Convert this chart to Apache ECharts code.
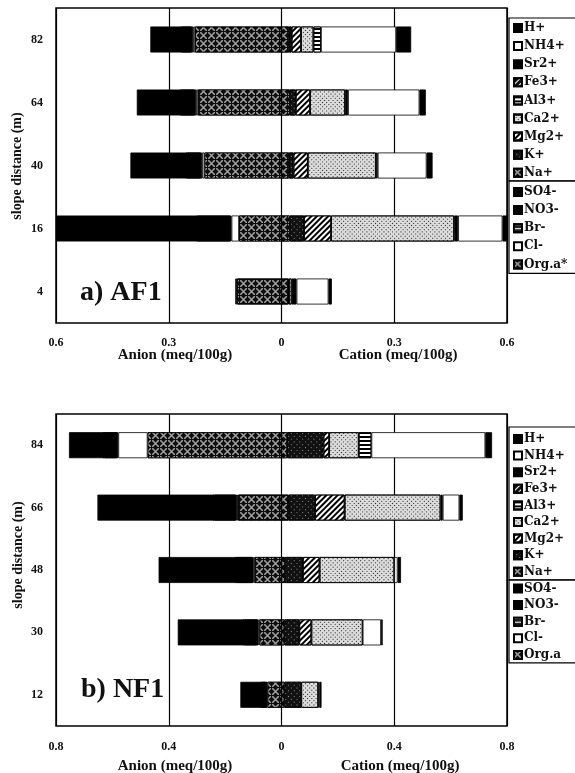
<!DOCTYPE html>
<html>
<head>
<meta charset="utf-8">
<script src="https://cdn.jsdelivr.net/npm/echarts@6/dist/echarts.min.js"></script>
<style>
  html, body { margin: 0; padding: 0; background: #fff; }
  #chart { width: 575px; height: 773px; }
</style>
</head>
<body>
<div id="chart"></div>
<script>
// ---------- a) AF1 : ion balance per slope distance (meq/100g) ----------
const afDistance = ['4', '16', '40', '64', '82'];
// cations (stacked to the right, from zero outward)
const afNa  = [0.018, 0.022, 0.020, 0.022, 0.020];
const afK   = [0.002, 0.038, 0.012, 0.016, 0.007];
const afMg  = [0,     0.072, 0.038, 0.038, 0.025];
const afCa  = [0.007, 0.327, 0.181, 0.093, 0.033];
const afAl  = [0,     0,     0,     0,     0.020];
const afFe  = [0,     0,     0,     0,     0];
const afSr  = [0.013, 0.011, 0.005, 0.008, 0];
const afNH4 = [0.085, 0.118, 0.130, 0.190, 0.200];
const afH   = [0.009, 0.012, 0.016, 0.017, 0.040];
// anions (stacked to the left, from zero outward)
const afOrg = [0.118, 0.113, 0.205, 0.222, 0.230];
const afCl  = [0,     0.020, 0.006, 0.005, 0.005];
const afBr  = [0,     0,     0,     0,     0];
const afNO3 = [0,     0.090, 0.040, 0.040, 0.030];
const afSO4 = [0.005, 0.377, 0.151, 0.118, 0.084];

// ---------- b) NF1 ----------
const nfDistance = ['12', '30', '48', '66', '84'];
const nfNa  = [0.010, 0.010, 0.012, 0.024, 0.020];
const nfK   = [0.060, 0.053, 0.064, 0.095, 0.129];
const nfMg  = [0,     0.043, 0.059, 0.105, 0.020];
const nfCa  = [0.060, 0.182, 0.265, 0.340, 0.105];
const nfAl  = [0,     0,     0,     0,     0.045];
const nfFe  = [0,     0,     0,     0,     0];
const nfSr  = [0,     0,     0,     0.008, 0];
const nfNH4 = [0.004, 0.065, 0.012, 0.059, 0.404];
const nfH   = [0.008, 0.006, 0.012, 0.012, 0.024];
const nfOrg = [0.050, 0.078, 0.095, 0.154, 0.475];
const nfCl  = [0,     0.004, 0.004, 0.004, 0.104];
const nfBr  = [0,     0,     0,     0,     0];
const nfNO3 = [0.020, 0.050, 0.060, 0.080, 0.050];
const nfSO4 = [0.076, 0.236, 0.277, 0.415, 0.125];

// x axis extents
const afLimit = 0.6, afStep = 0.3;
const nfLimit = 0.8, nfStep = 0.4;

const cationLegend = ['H+', 'NH4+', 'Sr2+', 'Fe3+', 'Al3+', 'Ca2+', 'Mg2+', 'K+', 'Na+'];

// ---------- fills / patterns ----------
const crossPath = 'path://M0,0L1.6,0L10,8.4L10,10L8.4,10L0,1.6Z M8.4,0L10,0L10,1.6L1.6,10L0,10L0,8.4Z';
const styles = {
  'H+':   { color: '#000' },
  'NH4+': { color: '#ffffff' },
  'Sr2+': { color: '#000' },
  'Fe3+': { color: '#111', decal: { symbol: 'rect', color: '#fff', dashArrayX: [1, 0], dashArrayY: [1, 2.5], rotation: -Math.PI / 4 } },
  'Al3+': { color: '#fff', decal: { symbol: 'rect', color: '#000', dashArrayX: [1, 0], dashArrayY: [1.6, 1.6] } },
  'Ca2+': { color: '#dcdcdc', decal: { symbol: 'rect', color: '#222', dashArrayX: [1, 1.2], dashArrayY: [1, 1.2], rotation: Math.PI / 4 } },
  'Mg2+': { color: '#fff', decal: { symbol: 'rect', color: '#000', dashArrayX: [1, 0], dashArrayY: [1.3, 2], rotation: -Math.PI / 4 } },
  'K+':   { color: '#111', decal: { symbol: 'rect', color: '#8a8a8a', dashArrayX: [1, 3], dashArrayY: [1, 3], rotation: Math.PI / 4 } },
  'Na+':  { color: '#0d0d0d', decal: { symbol: crossPath, color: 'rgba(255,255,255,0.6)', dashArrayX: [7, 1], dashArrayY: [7, 1] } },
  'SO4-': { color: '#000' },
  // its shadow closes the hairline left between the two black anion segments
  'NO3-': { color: '#000', shadowColor: '#000', shadowBlur: 0, shadowOffsetX: -1.5 },
  'Br-':  { color: '#222', decal: { symbol: 'rect', color: '#fff', dashArrayX: [1, 0], dashArrayY: [1, 3] } },
  'Cl-':  { color: '#ffffff' },
  'Org':  { color: '#0d0d0d', decal: { symbol: crossPath, color: 'rgba(255,255,255,0.6)', dashArrayX: [7, 1], dashArrayY: [7, 1] } }
};

const serif = 'Liberation Serif';
const legendFont = 'DejaVu Serif';
const ink = '#111';

function toSeries(name, styleKey, values, sign, axisIndex) {
  return {
    name: name,
    type: 'bar',
    stack: 'ions' + axisIndex,
    xAxisIndex: axisIndex,
    yAxisIndex: axisIndex,
    barWidth: 26,
    data: values.map(v => (v === 0 ? null : sign * v)),
    itemStyle: Object.assign({ borderColor: '#000', borderWidth: 0.8 }, styles[styleKey]),
    emphasis: { disabled: true },
    animation: false
  };
}

function panelSeries(idx, orgName, d) {
  return [
    // negative stack: first series sits next to zero
    toSeries(orgName, 'Org', d.org, -1, idx),
    toSeries('Cl-', 'Cl-', d.cl, -1, idx),
    toSeries('Br-', 'Br-', d.br, -1, idx),
    toSeries('NO3-', 'NO3-', d.no3, -1, idx),
    toSeries('SO4-', 'SO4-', d.so4, -1, idx),
    // positive stack
    toSeries('Na+', 'Na+', d.na, 1, idx),
    toSeries('K+', 'K+', d.k, 1, idx),
    toSeries('Mg2+', 'Mg2+', d.mg, 1, idx),
    toSeries('Ca2+', 'Ca2+', d.ca, 1, idx),
    toSeries('Al3+', 'Al3+', d.al, 1, idx),
    toSeries('Fe3+', 'Fe3+', d.fe, 1, idx),
    toSeries('Sr2+', 'Sr2+', d.sr, 1, idx),
    toSeries('NH4+', 'NH4+', d.nh4, 1, idx),
    toSeries('H+', 'H+', d.h, 1, idx)
  ];
}

const absLabel = v => String(Math.round(Math.abs(v) * 10) / 10);

function xAxisFor(idx, limit, step, margin) {
  return {
    gridIndex: idx, type: 'value', min: -limit, max: limit, interval: step,
    axisLine: { show: false }, axisTick: { show: false },
    splitLine: { show: true, lineStyle: { color: '#000', width: 1.2 } },
    axisLabel: { formatter: absLabel, margin: margin, color: ink, fontFamily: serif, fontWeight: 'bold', fontSize: 12 }
  };
}
function yAxisFor(idx, cats) {
  return {
    gridIndex: idx, type: 'category', data: cats,
    axisLine: { show: false }, axisTick: { show: false }, splitLine: { show: false },
    axisLabel: { margin: 13, color: ink, fontFamily: serif, fontWeight: 'bold', fontSize: 12, padding: [6, 0, 0, 0] }
  };
}

function legendBlock(data, top, pad, gap) {
  return {
    orient: 'vertical', left: 509, top: top, data: data,
    icon: 'rect', itemWidth: 8, itemHeight: 8, itemGap: gap,
    padding: pad, borderColor: '#000', borderWidth: 1.2,
    selectedMode: false,
    itemStyle: { shadowColor: 'transparent', shadowOffsetX: 0 },
    textStyle: { color: ink, fontFamily: legendFont, fontWeight: 'bold', fontSize: 12, lineHeight: 14, padding: [0, 0, 0, -3] }
  };
}

function label(text, x, y, size) {
  return {
    type: 'text', x: x, y: y, z: 50,
    style: { text: text, fill: ink, font: 'bold ' + size + 'px "' + serif + '"', align: 'center', verticalAlign: 'middle' }
  };
}
function yName(x, y) {
  return {
    type: 'text', x: x, y: y, rotation: Math.PI / 2, z: 50,
    style: { text: 'slope distance (m)', fill: ink, font: 'bold 14px "' + serif + '"', align: 'center', verticalAlign: 'middle' }
  };
}
function panelTag(text, x, y, pad) {
  return {
    type: 'text', x: x, y: y, z: 50,
    style: { text: text, fill: ink, font: 'bold 28px "' + serif + '"', align: 'left', verticalAlign: 'middle', backgroundColor: '#fff', padding: pad }
  };
}

const option = {
  backgroundColor: '#fff',
  animation: false,
  grid: [
    { left: 56, top: 8, width: 451, height: 315, show: true, borderColor: '#000', borderWidth: 1.5, backgroundColor: 'transparent' },
    { left: 56, top: 414, width: 451, height: 312, show: true, borderColor: '#000', borderWidth: 1.5, backgroundColor: 'transparent' }
  ],
  xAxis: [xAxisFor(0, afLimit, afStep, 14), xAxisFor(1, nfLimit, nfStep, 15)],
  yAxis: [yAxisFor(0, afDistance), yAxisFor(1, nfDistance)],
  legend: [
    legendBlock(cationLegend, 18, [3, 40, 1, 4], 4.1),
    legendBlock(['SO4-', 'NO3-', 'Br-', 'Cl-', 'Org.a*'], 181, [4, 40, 2, 4], 4.1),
    legendBlock(cationLegend, 427, [5, 40, 1, 4], 2.6),
    legendBlock(['SO4-', 'NO3-', 'Br-', 'Cl-', 'Org.a'], 580, [1.5, 40, 1, 4], 2.6)
  ],
  graphic: [
    label('Anion (meq/100g)', 175, 355, 15),
    label('Cation (meq/100g)', 398, 355, 15),
    label('Anion (meq/100g)', 175, 766, 15),
    label('Cation (meq/100g)', 400, 766, 15),
    yName(17, 166),
    yName(18, 555),
    panelTag('a) AF1', 78, 293, [20, 3, 3, 2]),
    panelTag('b) NF1', 79, 690, [8, 3, 6, 2])
  ],
  series: [].concat(
    panelSeries(0, 'Org.a*', { org: afOrg, cl: afCl, br: afBr, no3: afNO3, so4: afSO4, na: afNa, k: afK, mg: afMg, ca: afCa, al: afAl, fe: afFe, sr: afSr, nh4: afNH4, h: afH }),
    panelSeries(1, 'Org.a',  { org: nfOrg, cl: nfCl, br: nfBr, no3: nfNO3, so4: nfSO4, na: nfNa, k: nfK, mg: nfMg, ca: nfCa, al: nfAl, fe: nfFe, sr: nfSr, nh4: nfNH4, h: nfH })
  )
};

const chart = echarts.init(document.getElementById('chart'), null, { renderer: 'canvas' });
chart.setOption(option);
</script>
</body>
</html>
